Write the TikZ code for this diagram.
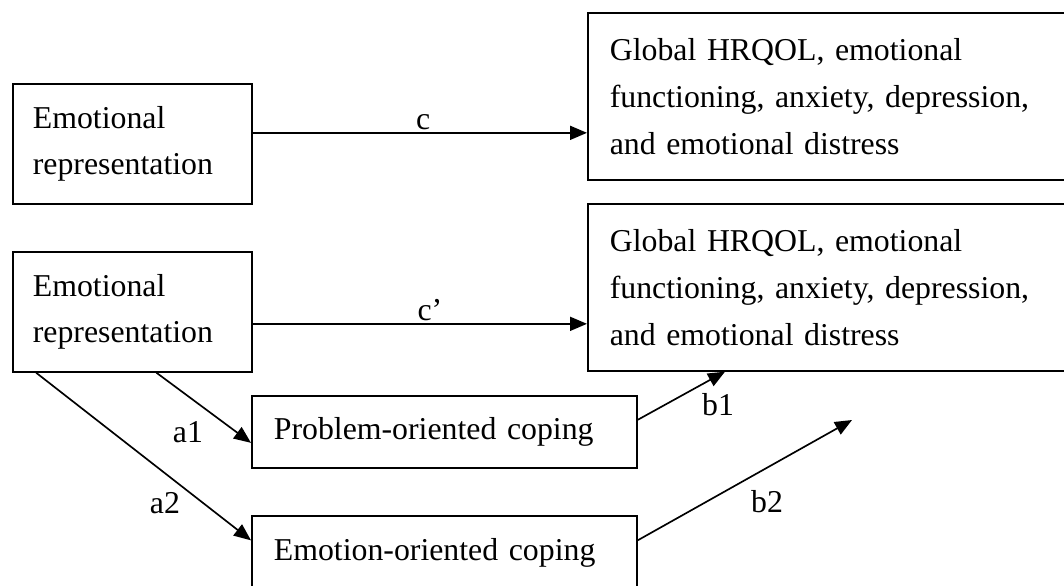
\documentclass[tikz,border=0pt]{standalone}
\usepackage{fontspec}
\setmainfont{Liberation Serif}
\usetikzlibrary{arrows.meta, calc}

\tikzset{
  box/.style={draw, line width=0.95pt, anchor=north west, align=left,
    inner xsep=4mm, inner ysep=0pt,
    font=\fontsize{18.1pt}{26.7pt}\selectfont},
  lbl/.style={font=\fontsize{18.1pt}{26.7pt}\selectfont, inner sep=0.5mm},
  arr/.style={->, line width=0.95pt}
}

\begin{document}
\begin{tikzpicture}[x=0.2mm, y=-0.2mm, >={Triangle[length=3.4mm,width=2.8mm]}]
        % Area visibile (i riquadri escono a destra e in basso)
        \useasboundingbox (0,0) rectangle (1064,585);
        \clip (0,0) rectangle (1064,585);
        
        % Effetto totale
        \node[box, text width=39.8mm, minimum height=24mm] (e1) at (12,83)
            {\raisebox{-0.7mm}{Emotional}\\\raisebox{-0.7mm}{representation}};
        \node[box, inner xsep=4.4mm, text width=91.8mm, minimum height=33.4mm] (r1) at (587,12)
            {Global HRQOL, emotional\\functioning, anxiety, depression,\\and emotional distress};
        
        % Modello con mediatori
        \node[box, text width=39.8mm, minimum height=24mm] (e2) at (12,251)
            {\raisebox{-0.7mm}{Emotional}\\\raisebox{-0.7mm}{representation}};
        \node[box, inner xsep=4.4mm, text width=91.8mm, minimum height=33.4mm] (r2) at (587,203)
            {Global HRQOL, emotional\\functioning, anxiety, depression,\\and emotional distress};
        \node[box, inner xsep=4.4mm, text width=68.2mm, minimum height=14.4mm] (prob) at (251,395)
            {Problem-oriented coping};
        \node[box, inner xsep=4.4mm, text width=68.2mm, minimum height=15mm] (emo) at (251,515)
            {Emotion-oriented coping};
        
        % Percorsi c e c'
        \coordinate (cin) at ($(e1.east)+(0,-11)$);
        \coordinate (cpin) at ($(e2.east)+(0,12)$);
        \draw[arr] (cin) -- node[lbl, above, pos=0.51] {c} (cin -| r1.west);
        \draw[arr] (cpin) -- node[lbl, above, pos=0.53] {c’} (cpin -| r2.west);
        
        % Percorsi a1, a2
        \draw[arr] ($(e2.south west)!0.6!(e2.south east)$) -- ($(prob.west)+(0,11)$);
        \draw[arr] ($(e2.south west)!0.1!(e2.south east)$) -- ($(emo.west)+(0,-13)$);
        \node[lbl] (la1) at (188,432) {a1};
        \node[lbl] (la2) at (165,503) {a2};
        
        % Percorsi b1, b2 (b2 resta libero)
        \coordinate (b2end) at (852,420);
        \draw[arr] ($(prob.east)+(0,-12)$) -- ($(r2.south west)+(138,0)$);
        \draw[arr] ($(emo.east)+(0,-13)$) -- (b2end);
        \node[lbl] (lb1) at (718,405) {b1};
        \node[lbl] (lb2) at (767,502) {b2};
        
    \end{tikzpicture}
\end{document}
